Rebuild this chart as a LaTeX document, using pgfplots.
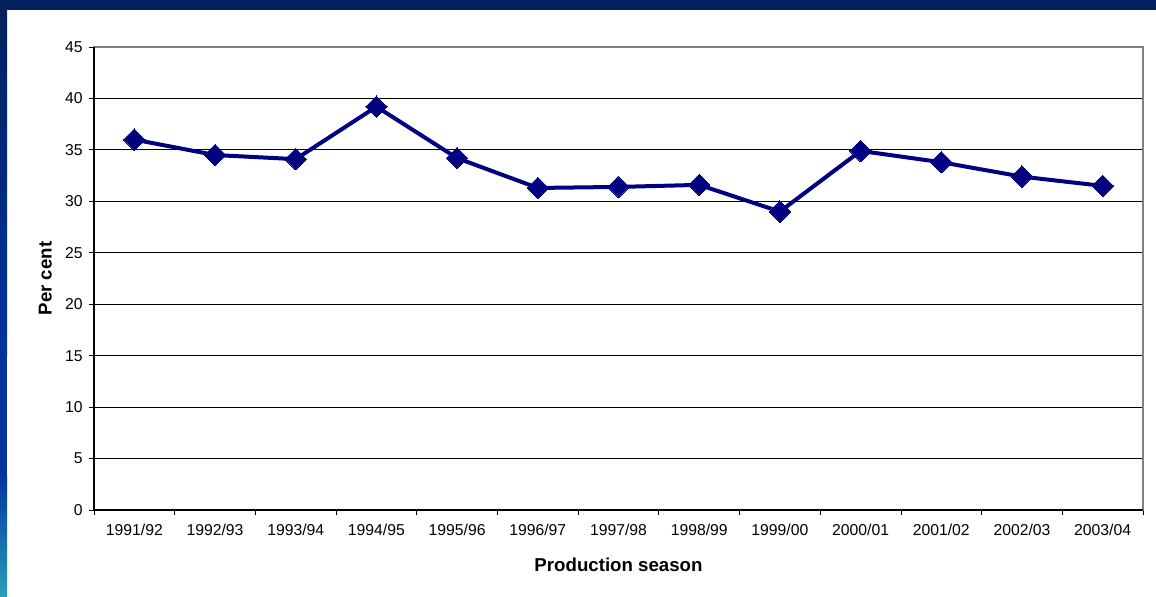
\documentclass[border=0pt]{standalone}
\usepackage{fontspec}
\setmainfont{Liberation Sans}
\usepackage{pgfplots}
\pgfplotsset{compat=1.18}

\definecolor{navyline}{HTML}{000080}
\definecolor{framedark}{HTML}{03215E}
\definecolor{framemid}{HTML}{0234A0}
\definecolor{frameteal}{HTML}{2A9FBA}

\begin{document}
\begin{tikzpicture}
% slide background, 1 px = 0.75pt
\fill[white] (0,0) rectangle (867pt,447pt);
\fill[framedark] (0,439.5pt) rectangle (867pt,447pt);
\shade[top color=framemid, bottom color=frameteal] (0,0) rectangle (5.25pt,90pt);
\fill[framemid] (0,89.5pt) rectangle (5.25pt,180.5pt);
\shade[top color=framedark, bottom color=framemid] (0,180pt) rectangle (5.25pt,439.5pt);
\begin{axis}[
    at={(70.5pt,64.5pt)}, anchor=south west,
    scale only axis,
    width=786.75pt, height=347.25pt,
    xmin=-0.5, xmax=12.5,
    ymin=0, ymax=45,
    ytick={0,5,...,45},
    xtick={0,...,12},
    xticklabels={1991/92,1992/93,1993/94,1994/95,1995/96,1996/97,1997/98,1998/99,1999/00,2000/01,2001/02,2002/03,2003/04},
    minor xtick={-0.5,0.5,...,12.5},
    major x tick style={draw=none},
    xtick pos=bottom, ytick pos=left,
    tick align=outside,
    major tick length=4pt,
    minor tick length=4pt,
    every tick/.style={black, line width=0.6pt},
    ymajorgrids,
    major grid style={black, line width=0.6pt},
    axis line style={draw=gray, line width=0.8pt},
    tick label style={font=\fontsize{11.8}{13}\selectfont},
    /pgf/number format/assume math mode=true,
    xticklabel style={yshift=-3pt},
    yticklabel style={xshift=-1pt},
    xlabel={\textbf{Production season}},
    ylabel={\textbf{Per cent}},
    label style={font=\fontsize{14}{16}\selectfont},
    xlabel style={at={(axis description cs:0.5,0)}, anchor=center, yshift=-41pt},
    ylabel style={at={(axis description cs:0,0.5)}, anchor=center, yshift=36.5pt},
    clip=false,
]
\addplot[navyline, line width=3pt, mark=square*, mark size=5.7pt,
    mark options={rotate=45, fill=navyline, line width=0pt}]
    coordinates {
    (0,36.0) (1,34.5) (2,34.1) (3,39.2) (4,34.2) (5,31.3) (6,31.4)
    (7,31.6) (8,29.0) (9,34.9) (10,33.8) (11,32.4) (12,31.5)
    };
\draw[black, line width=0.8pt] (rel axis cs:0,1) -- (rel axis cs:0,0) -- (rel axis cs:1,0);
\end{axis}
\end{tikzpicture}
\end{document}
